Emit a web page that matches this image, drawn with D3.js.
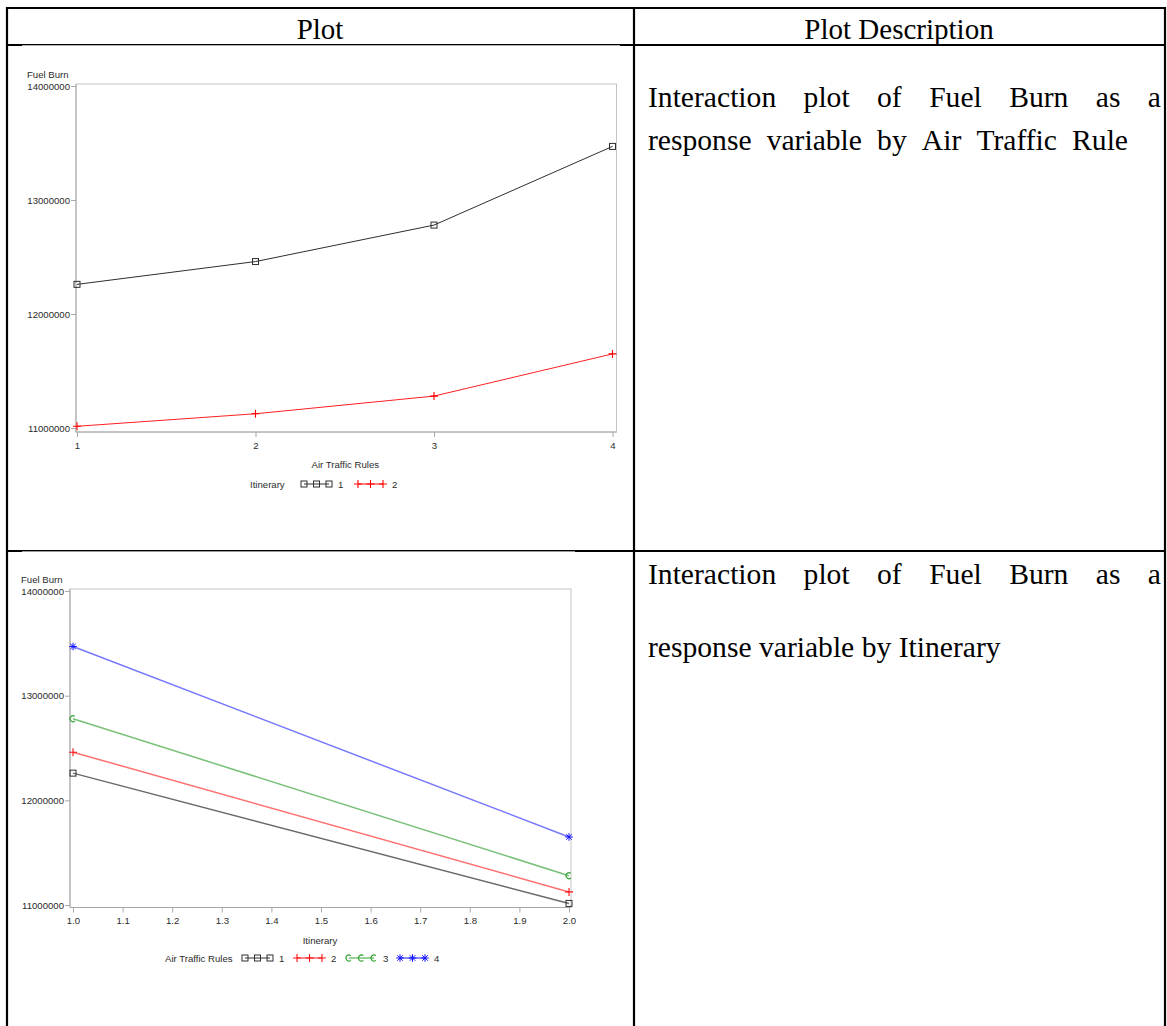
<!DOCTYPE html>
<html>
<head>
<meta charset="utf-8">
<script src="https://cdn.jsdelivr.net/npm/d3@7"></script>
<style>
  body { margin: 0; background: #fff; }
  svg { display: block; }
</style>
</head>
<body>
<script>
// ---- data ----
const airTrafficRules = [1, 2, 3, 4];
const itineraries = [1, 2];
// Fuel burn per air traffic rule (index = rule - 1)
const fuelBurnItinerary1 = [12260000, 12460000, 12780000, 13470000];
const fuelBurnItinerary2 = [11015000, 11125000, 11280000, 11650000];
const fuelBurnTicks = [11000000, 12000000, 13000000, 14000000];
const ruleTicks = [1, 2, 3, 4];
const itineraryTicks = [1.0, 1.1, 1.2, 1.3, 1.4, 1.5, 1.6, 1.7, 1.8, 1.9, 2.0];
const headers = ["Plot", "Plot Description"];
const descriptionRule = ["Interaction plot of Fuel Burn as a", "response variable by Air Traffic Rule"];
const descriptionItinerary = ["Interaction plot of Fuel Burn as a", "response variable by Itinerary"];

const W = 1167, H = 1026;
const serif = "'Liberation Serif', 'Times New Roman', serif";
const sans = "'Liberation Sans', Arial, sans-serif";
const ink = "#2b2b2b";
const bodySize = 29.6;

const svg = d3.select("body").append("svg")
  .attr("width", W).attr("height", H)
  .attr("viewBox", `0 0 ${W} ${H}`);

// ---- table grid ----
const colX = [7, 634, 1165];
const rowY = [8, 45, 551];
const grid = svg.append("g").attr("stroke", "#000").attr("stroke-width", 2.2);
rowY.forEach(y => grid.append("line").attr("x1", colX[0]).attr("x2", colX[2]).attr("y1", y).attr("y2", y));
colX.forEach(x => grid.append("line").attr("x1", x).attr("x2", x).attr("y1", rowY[0] - 1).attr("y2", H));

// plot images sit on top of the cell borders, slightly clipping them
svg.append("rect").attr("x", 22).attr("y", 45.3).attr("width", 598).attr("height", 504).attr("fill", "#fff");
svg.append("rect").attr("x", 22).attr("y", 551.4).attr("width", 553).attr("height", 475).attr("fill", "#fff");

// ---- header ----
svg.append("g").selectAll("text").data(headers).join("text")
  .attr("x", (d, i) => i === 0 ? 320 : 899)
  .attr("y", 39)
  .attr("text-anchor", "middle")
  .attr("font-family", serif).attr("font-size", 29)
  .attr("fill", "#000")
  .text(d => d);

// ---- descriptions: each line spread between x0 and its own right edge ----
function paragraph(lines, x0, rightEdges, baselines) {
  lines.forEach((line, li) => {
    const y = baselines[li];
    const x1 = rightEdges[li];
    const words = line.split(" ");
    const nodes = words.map(w => svg.append("text").attr("y", y)
      .attr("font-family", serif).attr("font-size", bodySize).attr("fill", "#000").text(w));
    const widths = nodes.map(n => n.node().getComputedTextLength());
    const space = bodySize * 0.25;
    const gap = x1 == null ? space : (x1 - x0 - d3.sum(widths)) / (words.length - 1);
    let x = x0;
    nodes.forEach((n, i) => { n.attr("x", x); x += widths[i] + gap; });
  });
}
paragraph(descriptionRule, 648, [1161, 1128], [107, 150]);
paragraph(descriptionItinerary, 648, [1161, null], [584, 657]);

// ---- markers ----
function drawMarker(g, type, x, y, color) {
  if (type === "square") {
    g.append("rect").attr("x", x - 3).attr("y", y - 3).attr("width", 6).attr("height", 6)
      .attr("fill", "none").attr("stroke", color).attr("stroke-width", 1);
  } else if (type === "plus") {
    g.append("path").attr("d", `M${x - 4},${y}H${x + 4}M${x},${y - 4}V${y + 4}`)
      .attr("stroke", color).attr("stroke-width", 1.1).attr("fill", "none");
  } else if (type === "c") {
    g.append("path")
      .attr("d", d3.arc().innerRadius(3).outerRadius(3)({ startAngle: 0.9, endAngle: 2 * Math.PI - 0.9 }).replace(/Z$/, ""))
      .attr("transform", `translate(${x},${y}) rotate(90)`)
      .attr("stroke", color).attr("stroke-width", 1.1).attr("fill", "none");
  } else if (type === "star") {
    const r = 3.8, d = r * 0.72;
    g.append("path").attr("d",
      `M${x - r},${y}H${x + r}M${x},${y - r}V${y + r}M${x - d},${y - d}L${x + d},${y + d}M${x - d},${y + d}L${x + d},${y - d}`)
      .attr("stroke", color).attr("stroke-width", 1).attr("fill", "none");
  }
}

// ---- generic interaction plot ----
function interactionPlot(cfg) {
  const g = svg.append("g");
  const { x, y, frame } = cfg;

  // frame
  g.append("rect").attr("x", frame.left).attr("y", frame.top)
    .attr("width", frame.right - frame.left).attr("height", frame.bottom - frame.top)
    .attr("fill", "none").attr("stroke", "#c4c4c4").attr("stroke-width", 1);

  // y axis
  const yAxis = g.append("g").attr("transform", `translate(${frame.left},0)`);
  yAxis.call(d3.axisLeft(y).tickValues(d3.range(11000000, 14000001, 100000)).tickSize(3).tickFormat(""));
  yAxis.call(d3.axisLeft(y).tickValues(fuelBurnTicks).tickSize(5).tickFormat(d3.format("d")));
  yAxis.selectAll("path.domain").remove();
  yAxis.selectAll("line").attr("stroke", "#a8a8a8");
  yAxis.selectAll("text").attr("font-family", sans).attr("font-size", 9.6).attr("fill", ink).attr("x", -6);
  g.append("line").attr("x1", frame.left).attr("x2", frame.left).attr("y1", frame.top).attr("y2", frame.bottom)
    .attr("stroke", "#a8a8a8");

  // x axis
  const xAxis = g.append("g").attr("transform", `translate(0,${frame.bottom})`);
  xAxis.call(d3.axisBottom(x).tickValues(cfg.minorTicks).tickSize(3).tickFormat(""));
  xAxis.call(d3.axisBottom(x).tickValues(cfg.majorTicks).tickSize(5).tickFormat(cfg.xFormat));
  xAxis.selectAll("path.domain").remove();
  xAxis.selectAll("line").attr("stroke", "#a8a8a8");
  xAxis.selectAll("text").attr("font-family", sans).attr("font-size", 9.6).attr("fill", ink)
    .attr("y", cfg.xLabelOffset).attr("dy", 0);
  g.append("line").attr("x1", frame.left).attr("x2", frame.right).attr("y1", frame.bottom).attr("y2", frame.bottom)
    .attr("stroke", "#a8a8a8");

  // axis titles
  g.append("text").attr("x", frame.left - 49).attr("y", frame.top - 6)
    .attr("font-family", sans).attr("font-size", 9.6).attr("fill", ink).text("Fuel Burn");
  g.append("text").attr("x", (frame.left + frame.right) / 2 + cfg.xTitleShift).attr("y", cfg.xTitleY)
    .attr("text-anchor", "middle")
    .attr("font-family", sans).attr("font-size", 9.6).attr("fill", ink).text(cfg.xTitle);

  // series
  const line = d3.line().x(d => x(d[0])).y(d => y(d[1]));
  cfg.series.forEach(s => {
    g.append("path").datum(s.points).attr("d", line)
      .attr("fill", "none").attr("stroke", s.lineColor).attr("stroke-width", s.lineWidth);
    s.points.forEach(p => drawMarker(g, s.marker, x(p[0]), y(p[1]), s.markerColor));
  });

  // legend
  const lg = cfg.legend;
  g.append("text").attr("x", lg.titleX).attr("y", lg.y + 3.5)
    .attr("font-family", sans).attr("font-size", 9.6).attr("fill", ink).text(lg.title);
  cfg.series.forEach((s, i) => {
    const x0 = lg.items[i];
    g.append("line").attr("x1", x0).attr("x2", x0 + 25).attr("y1", lg.y).attr("y2", lg.y)
      .attr("stroke", s.markerColor).attr("stroke-width", 1);
    [0, 12.5, 25].forEach(dx => drawMarker(g, s.marker, x0 + dx, lg.y, s.markerColor));
    g.append("text").attr("x", x0 + 34).attr("y", lg.y + 3.5)
      .attr("font-family", sans).attr("font-size", 9.6).attr("fill", ink).text(s.name);
  });
}

// ---- plot 1: fuel burn by air traffic rule, one line per itinerary ----
interactionPlot({
  x: d3.scaleLinear().domain([1, 4]).range([77, 612.5]),
  y: d3.scaleLinear().domain([11000000, 14000000]).range([428, 86]),
  frame: { left: 76, right: 616.5, top: 84, bottom: 432 },
  majorTicks: ruleTicks,
  minorTicks: d3.range(1, 4.0001, 0.1),
  xFormat: d3.format("d"),
  xLabelOffset: 17,
  xTitle: "Air Traffic Rules",
  xTitleShift: -1,
  xTitleY: 468,
  series: [
    { name: String(itineraries[0]), marker: "square", lineColor: "#2e2e2e", markerColor: "#2e2e2e", lineWidth: 1,
      points: airTrafficRules.map((r, i) => [r, fuelBurnItinerary1[i]]) },
    { name: String(itineraries[1]), marker: "plus", lineColor: "#ff2020", markerColor: "#ff0000", lineWidth: 1,
      points: airTrafficRules.map((r, i) => [r, fuelBurnItinerary2[i]]) }
  ],
  legend: { title: "Itinerary", titleX: 250, y: 484, items: [304, 358] }
});

// ---- plot 2: fuel burn by itinerary, one line per air traffic rule ----
const ruleStyles = [
  { marker: "square", lineColor: "#6a6a6a", markerColor: "#303030" },
  { marker: "plus", lineColor: "#ff7070", markerColor: "#ff1010" },
  { marker: "c", lineColor: "#78c078", markerColor: "#30a030" },
  { marker: "star", lineColor: "#7878ff", markerColor: "#1010ff" }
];
interactionPlot({
  x: d3.scaleLinear().domain([1, 2]).range([73, 569]),
  y: d3.scaleLinear().domain([11000000, 14000000]).range([905, 591]),
  frame: { left: 70, right: 571, top: 589, bottom: 907.5 },
  majorTicks: itineraryTicks,
  minorTicks: d3.range(1, 2.0001, 0.02),
  xFormat: d3.format(".1f"),
  xLabelOffset: 16,
  xTitle: "Itinerary",
  xTitleShift: -0.5,
  xTitleY: 944,
  series: airTrafficRules.map((r, i) => ({
    name: String(r), lineWidth: 1.5, ...ruleStyles[i],
    points: [[itineraries[0], fuelBurnItinerary1[i]], [itineraries[1], fuelBurnItinerary2[i]]]
  })),
  legend: { title: "Air Traffic Rules", titleX: 165, y: 958, items: [245, 297, 349, 400] }
});
</script>
</body>
</html>
